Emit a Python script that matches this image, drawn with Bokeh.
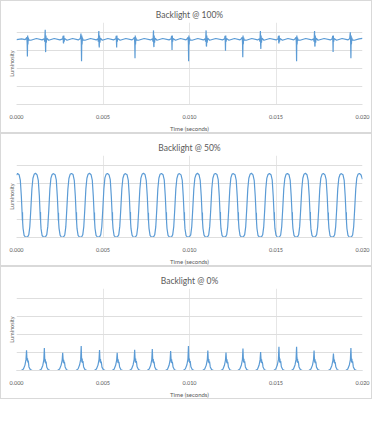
from bokeh.plotting import figure
from bokeh.layouts import column
from bokeh.models import Range1d, FixedTicker, NumeralTickFormatter
from bokeh.embed import file_html
from bokeh.resources import INLINE

# ---------------- data (time in microseconds, luminosity in arbitrary units) -------------
titles = ["Backlight @ 100%", "Backlight @ 50%", "Backlight @ 0%"]
x_ticks = [0.0, 0.005, 0.010, 0.015, 0.020]
y_grid = [0, 1, 2, 3, 4]

# Backlight @ 100%
t100 = [0, 300, 500,
        560, 595, 615, 630, 645, 660, 680, 710, 830, 1150, 1480,
        1600, 1630, 1648, 1660, 1672, 1685, 1700, 1720, 1750, 1860, 2180, 2510,
        2670, 2695, 2710, 2720, 2735, 2755, 2780, 2920, 3240, 3570,
        3690, 3725, 3745, 3760, 3775, 3790, 3810, 3840, 3960, 4280, 4610,
        4700, 4730, 4748, 4760, 4772, 4785, 4800, 4820, 4850, 4960, 5280, 5610,
        5740, 5765, 5780, 5790, 5805, 5825, 5850, 5990, 6320, 6680,
        6780, 6815, 6835, 6850, 6865, 6880, 6900, 6930, 7050, 7380, 7750,
        7860, 7890, 7908, 7920, 7932, 7945, 7960, 7980, 8010, 8120, 8450, 8820,
        8940, 8965, 8980, 8990, 9005, 9025, 9050, 9190, 9480, 9800,
        9880, 9915, 9935, 9950, 9965, 9980, 10000, 10030, 10150, 10480, 10800,
        10900, 10930, 10948, 10960, 10972, 10985, 11000, 11020, 11050, 11160, 11520, 11910,
        12030, 12055, 12070, 12080, 12095, 12115, 12140, 12280, 12600, 12920,
        13010, 13045, 13065, 13080, 13095, 13110, 13130, 13160, 13280, 13600, 13940,
        14040, 14070, 14088, 14100, 14112, 14125, 14140, 14160, 14190, 14300, 14640, 15010,
        15120, 15145, 15160, 15170, 15185, 15205, 15230, 15370, 15690, 16030,
        16120, 16155, 16175, 16190, 16205, 16220, 16240, 16270, 16390, 16720, 17070,
        17170, 17200, 17218, 17230, 17242, 17255, 17270, 17290, 17320, 17430, 17780, 18140,
        18250, 18275, 18290, 18300, 18315, 18335, 18360, 18500, 18820, 19170,
        19260, 19295, 19315, 19330, 19345, 19360, 19380, 19410, 19530, 19800, 20000]
lum100 = [3.62, 3.66, 3.62,
          3.68, 3.75, 3.45, 2.67, 3.85, 3.35, 3.72, 3.60, 3.58, 3.68, 3.60,
          3.66, 3.50, 3.90, 4.17, 3.30, 2.92, 3.85, 3.45, 3.70, 3.58, 3.68, 3.60,
          3.66, 3.82, 3.45, 3.40, 3.85, 3.50, 3.68, 3.58, 3.68, 3.60,
          3.68, 3.95, 3.45, 2.41, 3.85, 3.35, 3.72, 3.60, 3.58, 3.68, 3.60,
          3.66, 3.50, 3.90, 4.09, 3.30, 3.18, 3.85, 3.45, 3.70, 3.58, 3.68, 3.60,
          3.66, 3.82, 3.45, 3.18, 3.85, 3.50, 3.68, 3.58, 3.68, 3.60,
          3.68, 3.75, 3.45, 2.58, 3.85, 3.35, 3.72, 3.60, 3.58, 3.68, 3.60,
          3.66, 3.50, 3.90, 4.13, 3.30, 3.20, 3.85, 3.45, 3.70, 3.58, 3.68, 3.60,
          3.66, 3.82, 3.45, 3.04, 3.85, 3.50, 3.68, 3.58, 3.68, 3.60,
          3.68, 3.75, 3.45, 2.41, 3.85, 3.35, 3.72, 3.60, 3.58, 3.68, 3.60,
          3.66, 3.50, 3.90, 4.13, 3.30, 3.23, 3.85, 3.45, 3.70, 3.58, 3.68, 3.60,
          3.66, 3.82, 3.45, 3.00, 3.85, 3.50, 3.68, 3.58, 3.68, 3.60,
          3.68, 3.75, 3.45, 2.63, 3.85, 3.35, 3.72, 3.60, 3.58, 3.68, 3.60,
          3.66, 3.50, 3.90, 4.09, 3.30, 3.10, 3.85, 3.45, 3.70, 3.58, 3.68, 3.60,
          3.66, 3.82, 3.45, 3.40, 3.85, 3.50, 3.68, 3.58, 3.68, 3.60,
          3.68, 3.75, 3.45, 2.41, 3.85, 3.35, 3.72, 3.60, 3.58, 3.68, 3.60,
          3.66, 3.50, 3.90, 4.09, 3.30, 3.23, 3.85, 3.45, 3.70, 3.58, 3.68, 3.60,
          3.66, 3.82, 3.45, 2.92, 3.85, 3.50, 3.68, 3.58, 3.68, 3.60,
          3.68, 4.03, 3.45, 2.58, 3.85, 3.35, 3.72, 3.60, 3.58, 3.66, 3.68]

# Backlight @ 50%
t50 = [0,
       60, 150, 220, 280, 325, 340, 348, 356, 380, 440, 510, 580, 650, 710, 770, 830, 890, 950, 1020,
       1100, 1190, 1260, 1320, 1365, 1380, 1388, 1396, 1420, 1480, 1550, 1620, 1690, 1750, 1810, 1870, 1930, 1990, 2060,
       2140, 2230, 2300, 2360, 2405, 2420, 2428, 2436, 2460, 2520, 2590, 2660, 2730, 2790, 2850, 2910, 2970, 3030, 3100,
       3180, 3270, 3340, 3400, 3445, 3460, 3468, 3476, 3500, 3560, 3630, 3700, 3770, 3830, 3890, 3950, 4010, 4070, 4140,
       4220, 4310, 4380, 4440, 4485, 4500, 4508, 4516, 4540, 4600, 4670, 4740, 4810, 4870, 4930, 4990, 5050, 5110, 5180,
       5260, 5350, 5420, 5480, 5525, 5540, 5548, 5556, 5580, 5640, 5710, 5780, 5850, 5910, 5970, 6030, 6090, 6150, 6220,
       6300, 6390, 6460, 6520, 6565, 6580, 6588, 6596, 6620, 6680, 6750, 6820, 6890, 6950, 7010, 7070, 7130, 7190, 7260,
       7340, 7430, 7500, 7560, 7605, 7620, 7628, 7636, 7660, 7720, 7790, 7860, 7930, 7990, 8050, 8110, 8170, 8230, 8300,
       8380, 8470, 8540, 8600, 8645, 8660, 8668, 8676, 8700, 8760, 8830, 8900, 8970, 9030, 9090, 9150, 9210, 9270, 9340,
       9420, 9510, 9580, 9640, 9685, 9700, 9708, 9716, 9740, 9800, 9870, 9940, 10010, 10070, 10130, 10190, 10250, 10310, 10380,
       10460, 10550, 10620, 10680, 10725, 10740, 10748, 10756, 10780, 10840, 10910, 10980, 11050, 11110, 11170, 11230, 11290, 11350, 11420,
       11500, 11590, 11660, 11720, 11765, 11780, 11788, 11796, 11820, 11880, 11950, 12020, 12090, 12150, 12210, 12270, 12330, 12390, 12460,
       12540, 12630, 12700, 12760, 12805, 12820, 12828, 12836, 12860, 12920, 12990, 13060, 13130, 13190, 13250, 13310, 13370, 13430, 13500,
       13580, 13670, 13740, 13800, 13845, 13860, 13868, 13876, 13900, 13960, 14030, 14100, 14170, 14230, 14290, 14350, 14410, 14470, 14540,
       14620, 14710, 14780, 14840, 14885, 14900, 14908, 14916, 14940, 15000, 15070, 15140, 15210, 15270, 15330, 15390, 15450, 15510, 15580,
       15660, 15750, 15820, 15880, 15925, 15940, 15948, 15956, 15980, 16040, 16110, 16180, 16250, 16310, 16370, 16430, 16490, 16550, 16620,
       16700, 16790, 16860, 16920, 16965, 16980, 16988, 16996, 17020, 17080, 17150, 17220, 17290, 17350, 17410, 17470, 17530, 17590, 17660,
       17740, 17830, 17900, 17960, 18005, 18020, 18028, 18036, 18060, 18120, 18190, 18260, 18330, 18390, 18450, 18510, 18570, 18630, 18700,
       18780, 18870, 18940, 19000, 19045, 19060, 19068, 19076, 19100, 19160, 19230, 19300, 19370, 19430, 19490, 19550, 19610, 19670, 19740,
       19820, 19910, 20000]
lum50 = [3.48,
         3.57, 3.50, 3.20, 2.30, 1.35, 0.95, 1.40, 0.85, 0.50, 0.12, 0.03, 0.02, 0.05, 0.15, 0.60, 1.60, 2.70, 3.30, 3.52,
         3.58, 3.49, 3.18, 2.32, 1.33, 0.97, 1.42, 0.86, 0.48, 0.11, 0.04, 0.02, 0.06, 0.16, 0.62, 1.58, 2.72, 3.31, 3.51,
         3.56, 3.50, 3.21, 2.28, 1.36, 0.94, 1.38, 0.84, 0.51, 0.13, 0.03, 0.01, 0.05, 0.14, 0.59, 1.61, 2.69, 3.29, 3.52,
         3.57, 3.51, 3.19, 2.31, 1.34, 0.96, 1.41, 0.85, 0.49, 0.12, 0.03, 0.02, 0.04, 0.15, 0.61, 1.60, 2.71, 3.30, 3.53,
         3.58, 3.50, 3.20, 2.29, 1.35, 0.95, 1.39, 0.87, 0.50, 0.12, 0.04, 0.02, 0.05, 0.16, 0.60, 1.59, 2.70, 3.32, 3.52,
         3.57, 3.49, 3.22, 2.30, 1.37, 0.93, 1.40, 0.85, 0.50, 0.11, 0.03, 0.02, 0.06, 0.15, 0.62, 1.61, 2.72, 3.30, 3.51,
         3.56, 3.50, 3.20, 2.32, 1.35, 0.96, 1.42, 0.84, 0.49, 0.13, 0.03, 0.01, 0.05, 0.14, 0.60, 1.60, 2.69, 3.31, 3.52,
         3.58, 3.51, 3.19, 2.30, 1.34, 0.95, 1.38, 0.86, 0.51, 0.12, 0.04, 0.02, 0.05, 0.15, 0.59, 1.58, 2.70, 3.30, 3.53,
         3.57, 3.50, 3.21, 2.31, 1.36, 0.97, 1.41, 0.85, 0.50, 0.12, 0.03, 0.02, 0.04, 0.16, 0.61, 1.60, 2.71, 3.29, 3.52,
         3.56, 3.49, 3.20, 2.29, 1.35, 0.94, 1.40, 0.87, 0.48, 0.11, 0.03, 0.02, 0.06, 0.15, 0.60, 1.61, 2.70, 3.31, 3.51,
         3.58, 3.50, 3.18, 2.30, 1.33, 0.95, 1.39, 0.85, 0.50, 0.13, 0.04, 0.01, 0.05, 0.14, 0.62, 1.59, 2.72, 3.30, 3.52,
         3.57, 3.51, 3.22, 2.32, 1.36, 0.96, 1.42, 0.84, 0.49, 0.12, 0.03, 0.02, 0.05, 0.15, 0.60, 1.60, 2.69, 3.32, 3.53,
         3.56, 3.50, 3.20, 2.28, 1.35, 0.93, 1.40, 0.86, 0.51, 0.12, 0.03, 0.02, 0.06, 0.16, 0.61, 1.61, 2.71, 3.30, 3.52,
         3.58, 3.49, 3.19, 2.31, 1.37, 0.97, 1.38, 0.85, 0.50, 0.11, 0.04, 0.02, 0.05, 0.15, 0.59, 1.58, 2.70, 3.31, 3.51,
         3.57, 3.50, 3.21, 2.30, 1.34, 0.95, 1.41, 0.87, 0.49, 0.13, 0.03, 0.01, 0.04, 0.14, 0.60, 1.60, 2.72, 3.29, 3.52,
         3.56, 3.51, 3.20, 2.29, 1.35, 0.96, 1.40, 0.84, 0.50, 0.12, 0.03, 0.02, 0.05, 0.15, 0.62, 1.61, 2.69, 3.30, 3.53,
         3.58, 3.50, 3.18, 2.32, 1.36, 0.94, 1.42, 0.85, 0.48, 0.12, 0.04, 0.02, 0.06, 0.16, 0.60, 1.59, 2.70, 3.31, 3.52,
         3.57, 3.49, 3.22, 2.30, 1.33, 0.95, 1.39, 0.86, 0.51, 0.11, 0.03, 0.02, 0.05, 0.15, 0.61, 1.60, 2.71, 3.30, 3.51,
         3.56, 3.50, 3.20, 2.31, 1.35, 0.97, 1.40, 0.85, 0.50, 0.12, 0.03, 0.01, 0.05, 0.14, 0.60, 1.61, 2.70, 3.32, 3.52,
         3.57, 3.50, 3.25]

# Backlight @ 0%
t0 = [0,
      280, 400, 490, 550, 580, 600, 620, 635, 655, 680, 720, 800, 910,
      1310, 1430, 1520, 1580, 1610, 1630, 1650, 1665, 1685, 1710, 1750, 1830, 1940,
      2370, 2490, 2580, 2640, 2670, 2690, 2710, 2725, 2745, 2770, 2810, 2890, 3000,
      3440, 3560, 3650, 3710, 3740, 3760, 3780, 3795, 3815, 3840, 3880, 3960, 4070,
      4500, 4620, 4710, 4770, 4800, 4820, 4840, 4855, 4875, 4900, 4940, 5020, 5130,
      5520, 5640, 5730, 5790, 5820, 5840, 5860, 5875, 5895, 5920, 5960, 6040, 6150,
      6530, 6650, 6740, 6800, 6830, 6850, 6870, 6885, 6905, 6930, 6970, 7050, 7160,
      7550, 7670, 7760, 7820, 7850, 7870, 7890, 7905, 7925, 7950, 7990, 8070, 8180,
      8610, 8730, 8820, 8880, 8910, 8930, 8950, 8965, 8985, 9010, 9050, 9130, 9240,
      9640, 9760, 9850, 9910, 9940, 9960, 9980, 9995, 10015, 10040, 10080, 10160, 10270,
      10760, 10880, 10970, 11030, 11060, 11080, 11100, 11115, 11135, 11160, 11200, 11280, 11390,
      11810, 11930, 12020, 12080, 12110, 12130, 12150, 12165, 12185, 12210, 12250, 12330, 12440,
      12790, 12910, 13000, 13060, 13090, 13110, 13130, 13145, 13165, 13190, 13230, 13310, 13420,
      13810, 13930, 14020, 14080, 14110, 14130, 14150, 14165, 14185, 14210, 14250, 14330, 14440,
      14870, 14990, 15080, 15140, 15170, 15190, 15210, 15225, 15245, 15270, 15310, 15390, 15500,
      15890, 16010, 16100, 16160, 16190, 16210, 16230, 16245, 16265, 16290, 16330, 16410, 16520,
      16900, 17020, 17110, 17170, 17200, 17220, 17240, 17255, 17275, 17300, 17340, 17420, 17530,
      18020, 18140, 18230, 18290, 18320, 18340, 18360, 18375, 18395, 18420, 18460, 18540, 18650,
      19030, 19150, 19240, 19300, 19330, 19350, 19370, 19385, 19405, 19430, 19470, 19550, 19660,
      20000]
lum0 = [0.0,
        0.0, 0.08, 0.30, 0.62, 1.13, 0.72, 0.55, 0.68, 0.45, 0.55, 0.20, 0.05, 0.0,
        0.0, 0.07, 0.28, 0.60, 1.25, 0.70, 0.45, 0.62, 0.40, 0.50, 0.18, 0.05, 0.0,
        0.0, 0.08, 0.30, 0.58, 0.99, 0.68, 0.44, 0.60, 0.40, 0.48, 0.20, 0.04, 0.0,
        0.0, 0.09, 0.32, 0.62, 1.37, 0.74, 0.46, 0.66, 0.42, 0.52, 0.20, 0.05, 0.0,
        0.0, 0.08, 0.30, 0.60, 1.14, 0.70, 0.45, 0.64, 0.40, 0.50, 0.19, 0.05, 0.0,
        0.0, 0.07, 0.29, 0.58, 0.99, 0.68, 0.44, 0.62, 0.41, 0.49, 0.20, 0.04, 0.0,
        0.0, 0.08, 0.31, 0.60, 1.16, 0.72, 0.46, 0.66, 0.42, 0.52, 0.21, 0.05, 0.0,
        0.0, 0.08, 0.30, 0.61, 1.20, 0.71, 0.45, 0.64, 0.40, 0.50, 0.20, 0.05, 0.0,
        0.0, 0.07, 0.29, 0.59, 1.08, 0.69, 0.44, 0.63, 0.41, 0.48, 0.19, 0.04, 0.0,
        0.0, 0.09, 0.32, 0.63, 1.37, 0.74, 0.47, 0.66, 0.42, 0.52, 0.21, 0.05, 0.0,
        0.0, 0.08, 0.30, 0.60, 1.11, 0.70, 0.45, 0.64, 0.40, 0.50, 0.20, 0.05, 0.0,
        0.0, 0.07, 0.29, 0.58, 1.00, 0.68, 0.44, 0.62, 0.40, 0.48, 0.19, 0.04, 0.0,
        0.0, 0.08, 0.31, 0.61, 1.23, 0.72, 0.46, 0.65, 0.42, 0.51, 0.20, 0.05, 0.0,
        0.0, 0.07, 0.29, 0.59, 1.03, 0.69, 0.44, 0.62, 0.41, 0.49, 0.20, 0.04, 0.0,
        0.0, 0.09, 0.32, 0.62, 1.32, 0.73, 0.46, 0.66, 0.42, 0.52, 0.21, 0.05, 0.0,
        0.0, 0.08, 0.31, 0.62, 1.32, 0.73, 0.46, 0.65, 0.42, 0.51, 0.20, 0.05, 0.0,
        0.0, 0.08, 0.30, 0.60, 1.11, 0.70, 0.45, 0.63, 0.40, 0.50, 0.19, 0.05, 0.0,
        0.0, 0.07, 0.28, 0.57, 0.94, 0.67, 0.43, 0.61, 0.40, 0.47, 0.19, 0.04, 0.0,
        0.0, 0.08, 0.31, 0.61, 1.25, 0.72, 0.46, 0.65, 0.42, 0.51, 0.20, 0.05, 0.0,
        0.0]

series = [(t100, lum100), (t50, lum50), (t0, lum0)]

# ---------------- styling ----------------
LINE = "#5B9BD5"
GRID = "#DEDEDE"
VGRID = "#E6E6E6"
TEXT = "#595959"
FONT = "Lato"


def make_panel(title, t_us, lum):
    p = figure(width=372, height=133, output_backend="svg", toolbar_location=None,
               x_range=Range1d(0, 0.020), y_range=Range1d(0, 4.57),
               min_border_left=15, min_border_right=11, min_border_top=21,
               min_border_bottom=27, background_fill_color="white",
               border_fill_color="white")
    p.styles = {"border": "1px solid #D9D9D9"}
    p.outline_line_color = None

    p.title.text = title
    p.title.align = "center"
    p.title.text_font = FONT
    p.title.text_font_size = "8.5px"
    p.title.text_font_style = "normal"
    p.title.text_color = TEXT
    p.title.standoff = 6

    t_s = [v / 1e6 for v in t_us]
    p.line(t_s, lum, line_color=LINE, line_width=1.2)

    xa = p.xaxis[0]
    xa.ticker = FixedTicker(ticks=x_ticks)
    xa.formatter = NumeralTickFormatter(format="0.000")
    xa.axis_label = "Time (seconds)"
    xa.axis_label_text_font = FONT
    xa.axis_label_text_font_size = "6px"
    xa.axis_label_text_font_style = "normal"
    xa.axis_label_text_color = TEXT
    xa.axis_label_standoff = 3
    xa.major_label_text_font = FONT
    xa.major_label_text_font_size = "5.5px"
    xa.major_label_text_color = TEXT
    xa.major_label_standoff = 4
    xa.axis_line_color = GRID
    xa.major_tick_line_color = None
    xa.minor_tick_line_color = None

    ya = p.yaxis[0]
    ya.ticker = FixedTicker(ticks=[])
    ya.major_label_standoff = 0
    ya.axis_label = "Luminosity"
    ya.axis_label_text_font = FONT
    ya.axis_label_text_font_size = "5.5px"
    ya.axis_label_text_font_style = "normal"
    ya.axis_label_text_color = TEXT
    ya.axis_label_standoff = 2
    ya.axis_line_color = None
    ya.major_tick_line_color = None
    ya.minor_tick_line_color = None

    p.xgrid.ticker = FixedTicker(ticks=x_ticks)
    p.ygrid.ticker = FixedTicker(ticks=y_grid)
    p.xgrid.grid_line_color = VGRID
    p.ygrid.grid_line_color = GRID
    p.xgrid.grid_line_width = 1
    p.ygrid.grid_line_width = 1
    return p


panels = [make_panel(titles[i], series[i][0], series[i][1]) for i in range(3)]
layout = column(*panels, spacing=0)

open("out.html", "w").write(file_html(layout, INLINE))
